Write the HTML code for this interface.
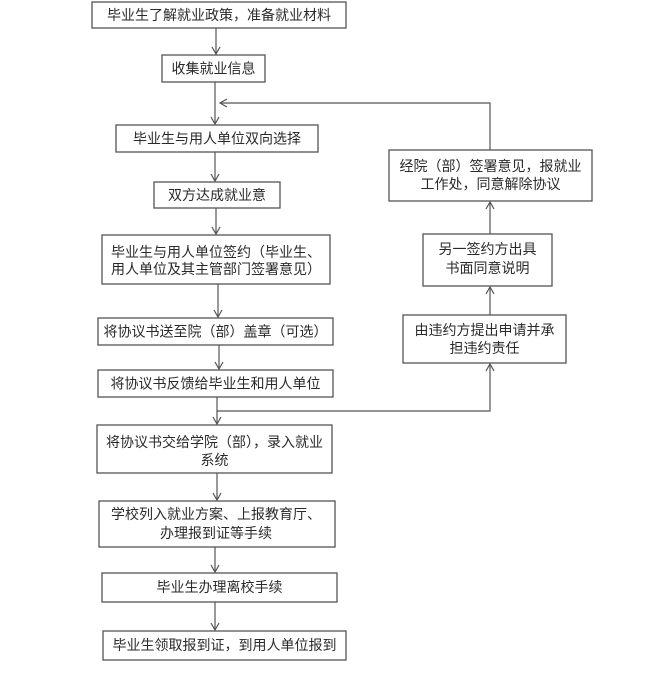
<!DOCTYPE html>
<html><head><meta charset="utf-8">
<style>
html,body{margin:0;padding:0;background:#fff;}
svg{display:block;}
text{font-family:"Liberation Sans","Noto Sans CJK SC",sans-serif;font-size:14px;fill:#2a2a2a;}
</style></head>
<body>
<svg width="654" height="690" viewBox="0 0 654 690" xmlns="http://www.w3.org/2000/svg">
<defs>
<marker id="a" markerWidth="10" markerHeight="10" refX="8" refY="5" orient="auto" markerUnits="userSpaceOnUse">
<path d="M1,1 L8,5 L1,9" fill="none" stroke="#555" stroke-width="1.2"/>
</marker>
</defs>
<g fill="#fff" stroke="#555" stroke-width="1.3">
<rect x="92" y="2" width="254" height="26"/>
<rect x="162" y="55" width="103" height="27"/>
<rect x="116" y="125" width="202" height="27"/>
<rect x="154" y="182" width="126" height="26"/>
<rect x="102" y="235" width="228" height="49"/>
<rect x="98" y="318" width="235" height="27"/>
<rect x="98" y="370" width="235" height="27"/>
<rect x="97" y="425" width="235" height="48"/>
<rect x="99" y="501" width="236" height="46"/>
<rect x="102" y="573" width="235" height="29"/>
<rect x="103" y="631" width="243" height="29"/>
<rect x="389" y="150" width="203" height="51"/>
<rect x="423" y="234" width="129" height="52"/>
<rect x="403" y="315" width="163" height="48"/>
</g>
<g stroke="#555" stroke-width="1.2" fill="none">
<line x1="216" y1="28" x2="216" y2="54" marker-end="url(#a)"/>
<line x1="215" y1="82" x2="215" y2="124" marker-end="url(#a)"/>
<line x1="215" y1="152" x2="215" y2="181" marker-end="url(#a)"/>
<line x1="216" y1="208" x2="216" y2="234" marker-end="url(#a)"/>
<line x1="218" y1="284" x2="218" y2="317" marker-end="url(#a)"/>
<line x1="219" y1="345" x2="219" y2="369" marker-end="url(#a)"/>
<line x1="217" y1="397" x2="217" y2="424" marker-end="url(#a)"/>
<line x1="217" y1="473" x2="217" y2="500" marker-end="url(#a)"/>
<line x1="215" y1="547" x2="215" y2="572" marker-end="url(#a)"/>
<line x1="215" y1="602" x2="215" y2="630" marker-end="url(#a)"/>
<polyline points="490,150 490,103 220,103" marker-end="url(#a)"/>
<line x1="490" y1="234" x2="490" y2="202" marker-end="url(#a)"/>
<line x1="490" y1="315" x2="490" y2="287" marker-end="url(#a)"/>
<polyline points="217,411 490,411 490,364" marker-end="url(#a)"/>
</g>
<g text-anchor="middle" dominant-baseline="central">
<text x="219" y="15">毕业生了解就业政策，准备就业材料</text>
<text x="213.5" y="68.5">收集就业信息</text>
<text x="217" y="138.5">毕业生与用人单位双向选择</text>
<text x="217" y="195">双方达成就业意</text>
<text x="216" y="252">毕业生与用人单位签约（毕业生、</text>
<text x="216" y="269">用人单位及其主管部门签署意见）</text>
<text x="215.5" y="331.5">将协议书送至院（部）盖章（可选）</text>
<text x="215.5" y="383.5">将协议书反馈给毕业生和用人单位</text>
<text x="214.5" y="442">将协议书交给学院（部），录入就业</text>
<text x="214.5" y="460">系统</text>
<text x="216" y="514">学校列入就业方案、上报教育厅、</text>
<text x="216" y="533">办理报到证等手续</text>
<text x="219.5" y="587">毕业生办理离校手续</text>
<text x="224.5" y="645">毕业生领取报到证，到用人单位报到</text>
<text x="490.5" y="166">经院（部）签署意见，报就业</text>
<text x="490.5" y="184">工作处，同意解除协议</text>
<text x="487.5" y="249">另一签约方出具</text>
<text x="487.5" y="268">书面同意说明</text>
<text x="484.5" y="330">由违约方提出申请并承</text>
<text x="484.5" y="348">担违约责任</text>
</g>
</svg>
</body></html>
